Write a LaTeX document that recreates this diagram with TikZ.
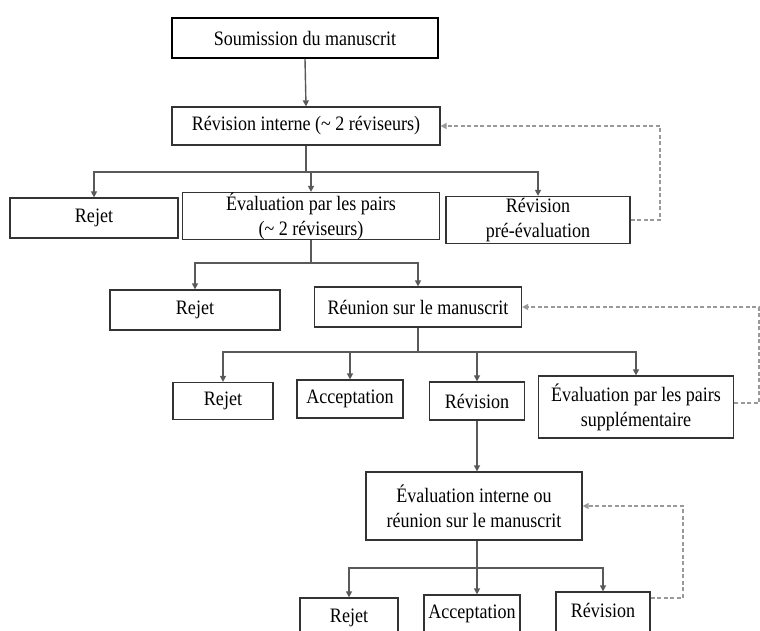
\documentclass[tikz,border=0pt]{standalone}
\usepackage{fontspec}
\setmainfont{Liberation Serif}[FakeStretch=0.88]
\usetikzlibrary{arrows.meta}
\begin{document}
\begin{tikzpicture}[x=1pt,y=-1pt,
  box/.style={draw=black!80, line width=1.3pt, fill=white, inner sep=0pt, align=center,
    font=\fontsize{20.5}{25}\selectfont},
  conn/.style={draw=black!65, line width=1.4pt},
  arr/.style={conn, -{Triangle[length=6pt,width=6pt]}},
  fb/.style={draw=black!40, line width=2pt, dash pattern=on 4pt off 2.5pt},
  fbarr/.style={fb, -{Triangle[length=6pt,width=6pt]}}]
\clip (0,0) rectangle (760,630);
\fill[white] (0,0) rectangle (760,630);
% nodes
\node[box, draw=black, line width=1.8pt, minimum width=266pt, minimum height=40pt] (sub) at (305,38) {Soumission du manuscrit};
\node[box, minimum width=268pt, minimum height=38pt] (ri) at (306,126) {Révision interne (\textasciitilde{} 2 réviseurs)};
\node[box, minimum width=168pt, minimum height=40pt] (rej1) at (94,218) {Rejet};
\node[box, minimum width=257pt, minimum height=40pt] (epp) at (311,216) {Évaluation par les pairs\\(\textasciitilde{} 2 réviseurs)};
\node[box, minimum width=184pt, minimum height=47pt] (rpe) at (538,220) {Révision\\pré-évaluation};
\node[box, minimum width=170pt, minimum height=40pt] (rej2) at (195,310) {Rejet};
\node[box, minimum width=207pt, minimum height=40pt] (reu) at (418,307) {Réunion sur le manuscrit};
\node[box, minimum width=100pt, minimum height=37pt] (rej3) at (223,401) {Rejet};
\node[box, minimum width=106pt, minimum height=38pt] (acc3) at (350,399) {Acceptation};
\node[box, minimum width=95pt, minimum height=38pt] (rev3) at (477,401) {Révision};
\node[box, minimum width=195pt, minimum height=62pt] (eps) at (636,407) {Évaluation par les pairs\\supplémentaire};
\node[box, minimum width=216pt, minimum height=68pt] (ei) at (474,506) {Évaluation interne ou\\réunion sur le manuscrit};
\node[box, minimum width=98pt, minimum height=42pt] (rej4) at (349,619) {\raisebox{6pt}{Rejet}};
\node[box, minimum width=96pt, minimum height=40pt] (acc4) at (472,615) {\raisebox{6pt}{Acceptation}};
\node[box, minimum width=94pt, minimum height=42pt] (rev4) at (603,613) {\raisebox{6pt}{Révision}};
% connectors
\draw[arr] (sub.south) -- (ri.north);
\coordinate (b1) at (306,172);
\draw[conn] (ri.south) -- (b1);
\draw[arr] (b1) -| (rej1.north);
\draw[arr] (b1) -| (epp.north);
\draw[arr] (b1) -| (rpe.north);
\coordinate (b2) at (311,263);
\draw[conn] (epp.south) -- (b2);
\draw[arr] (b2) -| (rej2.north);
\draw[arr] (b2) -| (reu.north);
\coordinate (b3) at (418,352);
\draw[conn] (reu.south) -- (b3);
\draw[arr] (b3) -| (rej3.north);
\draw[arr] (b3) -| (acc3.north);
\draw[arr] (b3) -| (rev3.north);
\draw[arr] (b3) -| (eps.north);
\draw[arr] (rev3.south) -- (rev3.south |- ei.north);
\coordinate (b4) at (477,568);
\draw[conn] (ei.south -| b4) -- (b4);
\draw[arr] (b4) -| (rej4.north);
\draw[arr] (b4) -- (b4 |- acc4.north);
\draw[arr] (b4) -| (rev4.north);
% feedback loops
\coordinate (f1) at (660,220);
\draw[fbarr] (rpe.east) -- (f1) |- (ri.east);
\coordinate (f2) at (759,403);
\draw[fbarr] (eps.east |- f2) -- (f2) |- (reu.east);
\coordinate (f3) at (683,598);
\draw[fbarr] (rev4.east |- f3) -- (f3) |- (ei.east);
\end{tikzpicture}
\end{document}
